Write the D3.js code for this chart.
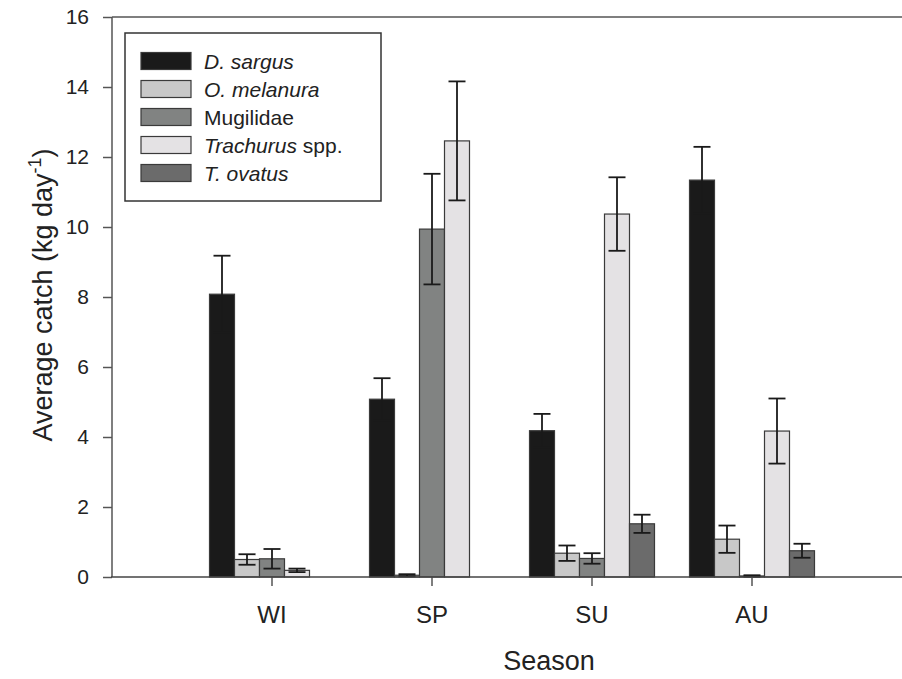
<!DOCTYPE html>
<html>
<head>
<meta charset="utf-8">
<script src="https://cdn.jsdelivr.net/npm/d3@7"></script>
<style>
  body { margin: 0; background: #fff; }
  text { font-family: Arial, "Liberation Sans", sans-serif; fill: #222; }
</style>
</head>
<body>
<script>
// Catch by season, grouped bars with standard errors
let seasons = ['WI', 'SP', 'SU', 'AU'];
let species = ['D. sargus', 'O. melanura', 'Mugilidae', 'Trachurus spp.', 'T. ovatus'];

// mean catch per season (kg/day), one array per species
let dSargus     = [8.08, 5.08, 4.18, 11.34];
let oMelanura   = [0.50, 0.05, 0.68, 1.08];
let mugilidae   = [0.52, 9.94, 0.53, 0.03];
let trachurus   = [0.19, 12.46, 10.37, 4.17];
let tOvatus     = [0, 0, 1.52, 0.75];

// standard errors
let dSargusSE   = [1.10, 0.60, 0.48, 0.95];
let oMelanuraSE = [0.15, 0.03, 0.22, 0.39];
let mugilidaeSE = [0.28, 1.58, 0.15, 0.02];
let trachurusSE = [0.05, 1.70, 1.05, 0.93];
let tOvatusSE   = [0, 0, 0.26, 0.20];

let yTicks = [0, 2, 4, 6, 8, 10, 12, 14, 16];

((() => {

  let means = [dSargus, oMelanura, mugilidae, trachurus, tOvatus];
  let errs = [dSargusSE, oMelanuraSE, mugilidaeSE, trachurusSE, tOvatusSE];
  let colors = ['#1a1a1a', '#c8c8c8', '#818382', '#e4e2e4', '#6b6b6b'];

  // flatten to one row per bar
  let data = [];
  species.forEach(function(sp, i) {
    seasons.forEach(function(s, j) {
      data.push({ species: sp, season: s, value: means[i][j], se: errs[i][j], color: colors[i] });
    });
  });

  let width = 902,
      height = 679;

  let margin = { top: 17, bottom: 102, left: 112, right: 0 };

  let svg = d3.select('body')
    .append('svg')
      .attr('width', width)
      .attr('height', height);

  let yScale = d3.scaleLinear()
    .domain([0, 16])
    .range([height - margin.bottom, margin.top]);

  let xScale = d3.scaleBand()
    .domain(seasons)
    .range([192, 832]);

  let x1 = d3.scaleBand()
    .domain(species)
    .range([-62.5, 62.5]);

  let y0 = yScale(0);

  // bars
  svg.append('g')
    .selectAll('rect')
      .data(data.filter(d => d.value > 0))
    .enter()
    .append('rect')
      .attr('x', d => xScale(d.season) + xScale.bandwidth() / 2 + x1(d.species))
      .attr('y', d => yScale(d.value))
      .attr('width', x1.bandwidth())
      .attr('height', d => y0 - yScale(d.value))
      .attr('fill', d => d.color)
      .attr('stroke', '#3a3a3a')
      .attr('stroke-width', 1.2);

  // error bars (same black as D. sargus, so they vanish inside those bars)
  let eb = svg.append('g')
    .selectAll('g')
      .data(data.filter(d => d.value > 0))
    .enter()
    .append('g')
      .attr('stroke', '#1a1a1a')
      .attr('stroke-width', 1.8);

  let cx = d => xScale(d.season) + xScale.bandwidth() / 2 + x1(d.species) + x1.bandwidth() / 2;

  eb.append('line')
    .attr('x1', cx).attr('x2', cx)
    .attr('y1', d => yScale(d.value + d.se))
    .attr('y2', d => yScale(Math.max(0, d.value - d.se)));
  eb.append('line')
    .attr('x1', d => cx(d) - 8.5).attr('x2', d => cx(d) + 8.5)
    .attr('y1', d => yScale(d.value + d.se))
    .attr('y2', d => yScale(d.value + d.se));
  eb.append('line')
    .attr('x1', d => cx(d) - 8.5).attr('x2', d => cx(d) + 8.5)
    .attr('y1', d => yScale(Math.max(0, d.value - d.se)))
    .attr('y2', d => yScale(Math.max(0, d.value - d.se)));

  // axes
  let yAxis = svg.append('g')
    .attr('transform', `translate(${margin.left},0)`)
    .call(d3.axisLeft(yScale).tickValues(yTicks).tickSize(9).tickPadding(14));

  let xAxis = svg.append('g')
    .attr('transform', `translate(0,${y0})`)
    .call(d3.axisBottom(xScale).tickSize(9).tickPadding(20));

  // top frame line
  svg.append('line')
    .attr('x1', margin.left).attr('x2', width)
    .attr('y1', yScale(16)).attr('y2', yScale(16))
    .attr('stroke', '#555').attr('stroke-width', 1.5);

  // stretch the x axis line to the right edge
  xAxis.select('.domain').remove();
  xAxis.append('line')
    .attr('x1', margin.left - 1).attr('x2', width)
    .attr('stroke', '#444').attr('stroke-width', 1.5);

  yAxis.select('.domain').remove();
  yAxis.append('line')
    .attr('y1', yScale(16)).attr('y2', y0)
    .attr('stroke', '#555').attr('stroke-width', 1.5);

  yAxis.selectAll('.tick line').attr('stroke', '#555').attr('stroke-width', 1.5);
  xAxis.selectAll('.tick line').attr('stroke', '#555').attr('stroke-width', 1.5);

  yAxis.selectAll('.tick text')
    .style('font-size', '21px')
    .attr('fill', '#222');
  xAxis.selectAll('.tick text')
    .style('font-size', '24px')
    .attr('fill', '#222');

  // axis titles
  svg.append('text')
    .attr('x', 549)
    .attr('y', 670)
    .attr('text-anchor', 'middle')
    .style('font-size', '27px')
    .text('Season');

  let yTitle = svg.append('text')
    .attr('transform', 'translate(52,295) rotate(-90)')
    .attr('text-anchor', 'middle')
    .style('font-size', '27px');
  yTitle.append('tspan').text('Average catch (kg day');
  yTitle.append('tspan').attr('dy', -11).style('font-size', '18px').text('-1');
  yTitle.append('tspan').attr('dy', 11).text(')');

  // legend
  let legend = svg.append('g');
  legend.append('rect')
    .attr('x', 125).attr('y', 33)
    .attr('width', 256).attr('height', 168)
    .attr('fill', '#fff')
    .attr('stroke', '#333')
    .attr('stroke-width', 1.5);

  let labelParts = [
    [['D. sargus', true]],
    [['O. melanura', true]],
    [['Mugilidae', false]],
    [['Trachurus', true], [' spp.', false]],
    [['T. ovatus', true]]
  ];

  let row = legend.selectAll('g.row')
      .data(species)
    .enter()
    .append('g')
      .attr('class', 'row')
      .attr('transform', (d, i) => `translate(141,${61 + i * 28})`);

  row.append('rect')
    .attr('x', 0).attr('y', -8.5)
    .attr('width', 50).attr('height', 17)
    .attr('fill', (d, i) => colors[i])
    .attr('stroke', '#3a3a3a')
    .attr('stroke-width', 1.2);

  let lt = row.append('text')
    .attr('x', 63)
    .attr('y', 7.5)
    .style('font-size', '21px');
  lt.each(function(d, i) {
    let t = d3.select(this);
    labelParts[i].forEach(function(p) {
      t.append('tspan')
        .style('font-style', p[1] ? 'italic' : 'normal')
        .text(p[0]);
    });
  });

})());
</script>
</body>
</html>
